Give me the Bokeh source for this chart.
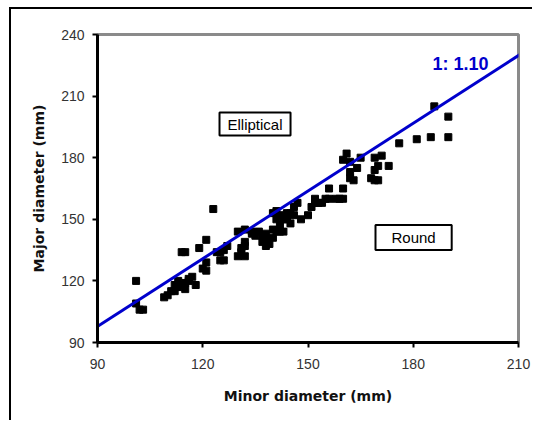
from bokeh.plotting import figure
from bokeh.models import Label, FixedTicker, Range1d
from bokeh.embed import file_html
from bokeh.resources import INLINE

# ---- data ----
minor_mm = [101, 101, 102, 103, 109, 110, 111, 112, 112, 113, 114, 113, 115, 115, 116, 117,
            116, 118, 114, 115, 119, 121, 121, 121, 120, 123, 124, 125, 125, 126, 127, 126,
            130, 131, 132, 130, 132, 131, 132, 132, 134, 135, 136, 137, 137, 138, 139, 138,
            140, 140, 141, 140, 141, 142, 142, 143, 142, 143, 144, 144, 145, 145, 146, 146,
            147, 148, 150, 151, 152, 152, 153, 154, 155, 156, 156, 158, 159, 160, 160, 160,
            161, 162, 162, 162, 163, 164, 165, 168, 169, 170, 169, 170, 169, 171, 173, 176,
            181, 185, 186, 190, 190, 138, 141, 134]
major_mm = [120, 109, 106, 106, 112, 113, 115, 115, 118, 117, 118, 120, 116, 119, 121, 122,
            120, 118, 134, 134, 136, 140, 129, 125, 126, 155, 134, 134, 130, 130, 137, 135,
            144, 136, 137, 132, 132, 134, 139, 145, 143, 142, 144, 142, 139, 137, 138, 143,
            141, 145, 150, 153, 154, 152, 147, 144, 144, 150, 153, 150, 153, 148, 156, 152,
            158, 150, 152, 156, 158, 160, 158, 158, 160, 160, 165, 160, 160, 160, 165, 179,
            182, 178, 173, 170, 169, 175, 180, 170, 169, 169, 174, 176, 180, 181, 176, 187,
            189, 190, 205, 200, 190, 140, 144, 144]
x_ticks = [90, 120, 150, 180, 210]
y_ticks = [90, 120, 150, 180, 210, 240]
ratio = 1.10
offset = -1.2
line_x = [85, 215]
line_y = [ratio * v + offset for v in line_x]

FONT = "Liberation Sans"

p = figure(frame_width=421, frame_height=308,
           min_border_left=86, min_border_right=14, min_border_top=25, min_border_bottom=78,
           x_range=Range1d(90, 210), y_range=Range1d(90, 240),
           output_backend="svg", toolbar_location=None,
           background_fill_color="white", border_fill_color="white")
p.styles = {"border-left": "2px solid black", "border-top": "2px solid black",
            "margin-left": "9px", "margin-top": "7px"}

p.xgrid.visible = False
p.ygrid.visible = False
p.outline_line_color = "#8a8a8a"
p.outline_line_width = 3

for ax in (p.xaxis[0], p.yaxis[0]):
    ax.axis_line_color = "black"
    ax.axis_line_width = 3
    ax.major_tick_line_color = "black"
    ax.major_tick_line_width = 2
    ax.major_tick_out = 5
    ax.major_tick_in = 0
    ax.minor_tick_line_color = None
    ax.major_label_text_font = FONT
    ax.major_label_text_font_size = "14px"
    ax.major_label_text_color = "#333333"
    ax.axis_label_text_font = "DejaVu Sans"
    ax.axis_label_text_font_size = "14px"
    ax.axis_label_text_font_style = "bold"
    ax.axis_label_text_color = "#111111"

p.xaxis.ticker = FixedTicker(ticks=x_ticks)
p.yaxis.ticker = FixedTicker(ticks=y_ticks)
p.xaxis.axis_label = "Minor diameter (mm)"
p.yaxis.axis_label = "Major diameter (mm)"
p.xaxis.major_label_standoff = 11
p.xaxis.axis_label_standoff = 16
p.yaxis.major_label_standoff = 8
p.yaxis.axis_label_standoff = 11

p.scatter(minor_mm, major_mm, marker="square", size=7, color="black")
p.line(line_x, line_y, line_color="#0000cc", line_width=3)

p.add_layout(Label(x=185.5, y=225.4, text="1: 1.10", text_font=FONT, text_font_size="18px",
                   text_font_style="bold", text_color="#0000cc", text_baseline="middle"))
p.add_layout(Label(x=134.9, y=196.4, text="Elliptical", text_font=FONT, text_font_size="15px",
                   text_align="center", text_baseline="middle", text_color="black",
                   border_line_color="black", border_line_width=2, background_fill_color="white",
                   padding={"left": 8, "right": 8, "top": 3, "bottom": 3}))
p.add_layout(Label(x=180.1, y=141.1, text="Round", text_font=FONT, text_font_size="15px",
                   text_align="center", text_baseline="middle", text_color="black",
                   border_line_color="black", border_line_width=2, background_fill_color="white",
                   padding={"left": 16, "right": 16, "top": 4, "bottom": 4}))

open("out.html", "w").write(file_html(p, INLINE))
